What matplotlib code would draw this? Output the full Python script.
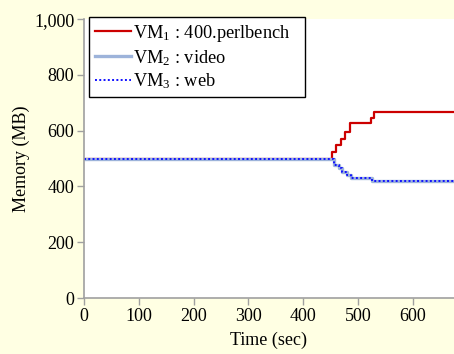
import matplotlib
matplotlib.use("Agg")
import matplotlib.pyplot as plt
from matplotlib.ticker import FuncFormatter

# Memory allocation of three VMs over time (step changes)
t_vm1 = [0, 453, 459, 469, 477, 486, 523, 529, 680]
mem_vm1 = [497, 522, 548, 572, 596, 626, 644, 666, 666]

t_vm2 = [0, 456, 465, 471, 480, 487, 526, 680]
mem_vm2 = [497, 477, 465, 453, 441, 432, 419, 419]

t_vm3 = [0, 456, 465, 471, 480, 487, 526, 680]
mem_vm3 = [497, 477, 465, 453, 441, 432, 419, 419]

labels = ["VM$_1$ : 400.perlbench", "VM$_2$ : video", "VM$_3$ : web"]
x_ticks = [0, 100, 200, 300, 400, 500, 600]
y_ticks = [0, 200, 400, 600, 800, 1000]

plt.rcParams["font.family"] = ["Liberation Serif", "DejaVu Serif"]
plt.rcParams["mathtext.fontset"] = "custom"
plt.rcParams["mathtext.rm"] = "Liberation Serif"
plt.rcParams["mathtext.it"] = "Liberation Serif"
plt.rcParams["font.size"] = 13

bg = "#FFFFE3"
fig = plt.figure(figsize=(4.54, 3.54), dpi=100, facecolor=bg)
ax = fig.add_axes([0.185, 0.158, 0.815, 0.788])
ax.set_facecolor("white")

ax.step(t_vm1, mem_vm1, where="post", color="#CC0000", lw=1.6, label=labels[0])
ax.step(t_vm2, mem_vm2, where="post", color="#9DB3DA", lw=2.4, label=labels[1])
ax.step(t_vm3, mem_vm3, where="post", color="#1010FF", lw=1.4,
        linestyle=(0, (1, 1.2)), label=labels[2])

ax.set_xlim(0, 675)
ax.set_ylim(0, 1000)
ax.set_xticks(x_ticks)
ax.set_yticks(y_ticks)
ax.yaxis.set_major_formatter(FuncFormatter(lambda v, p: f"{int(v):,}"))

for s in ("top", "right"):
    ax.spines[s].set_visible(False)
for s in ("left", "bottom"):
    ax.spines[s].set_color("#A0A0A0")
    ax.spines[s].set_linewidth(1.2)
ax.tick_params(axis="both", colors="#A0A0A0", labelcolor="black",
               length=5, width=1.0, direction="out", pad=2)

ax.set_xlabel("Time (sec)", labelpad=5)
ax.set_ylabel("Memory (MB)", labelpad=3)

leg = fig.legend(loc="upper left", bbox_to_anchor=(0.196, 0.952, 0.476, 0.0),
                 mode="expand",
                 frameon=True, fancybox=False, edgecolor="black",
                 framealpha=1, handlelength=1.95, handletextpad=0.15,
                 borderpad=0.32, labelspacing=0.22, borderaxespad=0,
                 fontsize=13.2)
leg.get_frame().set_linewidth(1.0)

fig.savefig("out.png", dpi=100, facecolor=bg)
